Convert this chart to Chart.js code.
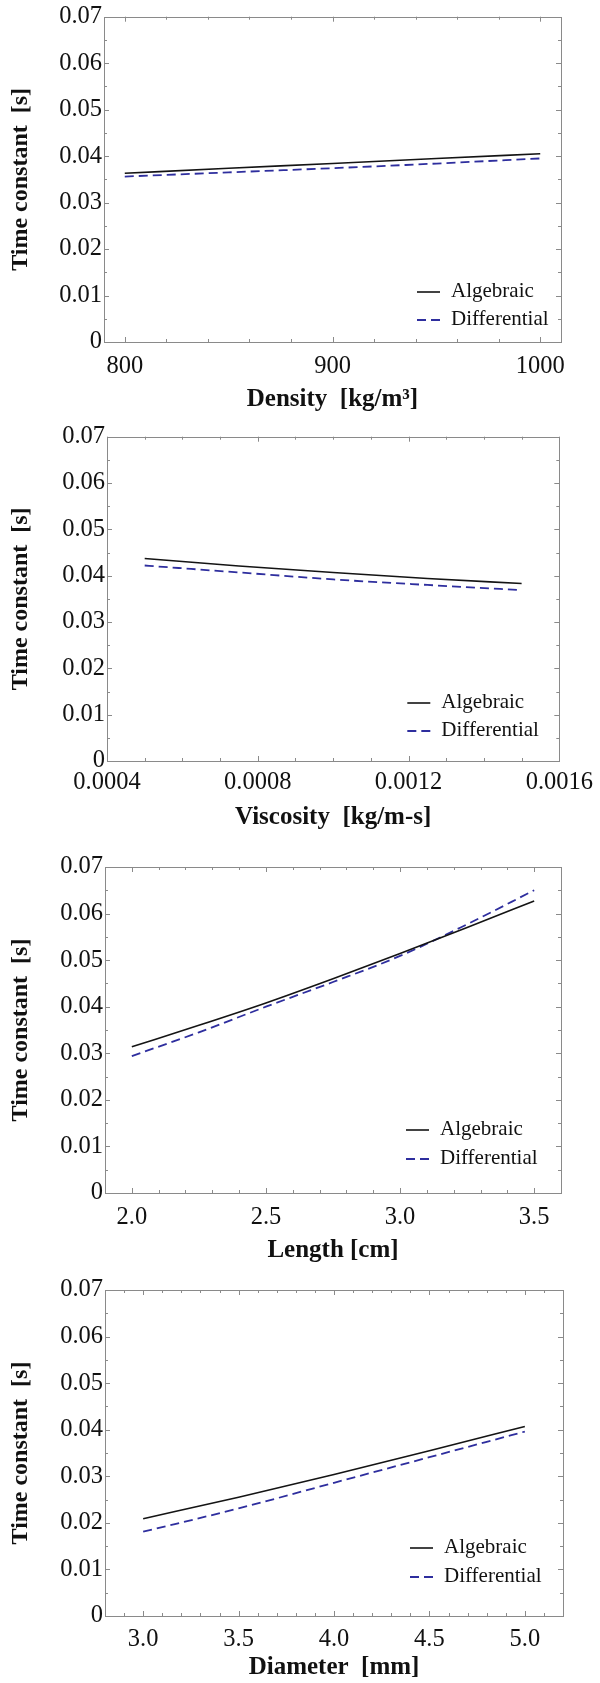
<!DOCTYPE html>
<html lang="en">
<head>
<meta charset="UTF-8">
<title>Time constant</title>
<script src="https://cdn.jsdelivr.net/npm/chart.js"></script>
<style>
  body { margin: 0; background: #fff; }
  canvas { position: absolute; left: 0; }
</style>
</head>
<body>
<canvas id="chart1" width="600" height="420" style="top:0px"></canvas>
<canvas id="chart2" width="600" height="420" style="top:420px"></canvas>
<canvas id="chart3" width="600" height="430" style="top:840px"></canvas>
<canvas id="chart4" width="600" height="413" style="top:1270px"></canvas>

<script>
// --- dados ---
const seriesLabels = ['Algebraic', 'Differential'];
const yTickValues = [0, 0.01, 0.02, 0.03, 0.04, 0.05, 0.06, 0.07];
const yTickLabels = ['0', '0.01', '0.02', '0.03', '0.04', '0.05', '0.06', '0.07'];

// densidade
const densityX = [800, 850, 900, 950, 1000];
const densityAlg = [0.0363, 0.0374, 0.0384, 0.0395, 0.0405];
const densityDif = [0.0356, 0.0365, 0.0374, 0.0384, 0.0395];
const densityTicks = [800, 900, 1000];
const densityTickLabels = ['800', '900', '1000'];

// viscosidade
const viscX = [0.0005, 0.00075, 0.001, 0.00125, 0.0015];
const viscAlg = [0.0437, 0.0421, 0.0407, 0.0394, 0.0383];
const viscDif = [0.0422, 0.0407, 0.0392, 0.0380, 0.0369];
const viscTicks = [0.0004, 0.0008, 0.0012, 0.0016];
const viscTickLabels = ['0.0004', '0.0008', '0.0012', '0.0016'];

// comprimento
const lengthX = [2.0, 2.25, 2.5, 2.75, 3.0, 3.25, 3.5];
const lengthAlg = [0.0314, 0.0360, 0.0408, 0.0460, 0.0514, 0.0570, 0.0627];
const lengthDif = [0.0294, 0.0345, 0.0400, 0.0453, 0.0509, 0.0577, 0.0650];
const lengthTicks = [2.0, 2.5, 3.0, 3.5];
const lengthTickLabels = ['2.0', '2.5', '3.0', '3.5'];

// diametro
const diamX = [3.0, 3.5, 4.0, 4.5, 5.0];
const diamAlg = [0.0209, 0.0255, 0.0304, 0.0355, 0.0407];
const diamDif = [0.0181, 0.0231, 0.0286, 0.0341, 0.0396];
const diamTicks = [3.0, 3.5, 4.0, 4.5, 5.0];
const diamTickLabels = ['3.0', '3.5', '4.0', '4.5', '5.0'];

const FONT = "'Liberation Serif', 'Times New Roman', serif";
const frameColor = '#8a8a8a';

// caixa fechada com ticks para dentro (estilo Mathematica)
const boxTicks = {
    id: 'boxTicks',
    afterDraw(chart, args, opts) {
        const { ctx, chartArea: a, scales: { x, y } } = chart;
        ctx.save();
        ctx.strokeStyle = frameColor;
        ctx.lineWidth = 1;
        ctx.strokeRect(Math.round(a.left) + 0.5, Math.round(a.top) + 0.5,
            Math.round(a.right - a.left), Math.round(a.bottom - a.top));

        function steps(min, max, step) {
            const out = [];
            const start = Math.ceil(min / step - 1e-9);
            const end = Math.floor(max / step + 1e-9);
            for (let i = start; i <= end; i++) out.push(i * step);
            return out;
        }

        ctx.beginPath();
        steps(x.min, x.max, opts.xMinor).forEach(v => {
            const isMajor = x.ticks.some(t => Math.abs(t.value - v) < opts.xMinor / 10);
            const len = isMajor ? 5 : 3;
            const px = Math.round(x.getPixelForValue(v)) + 0.5;
            ctx.moveTo(px, a.bottom); ctx.lineTo(px, a.bottom - len);
            ctx.moveTo(px, a.top); ctx.lineTo(px, a.top + len);
        });
        steps(y.min, y.max, opts.yMinor).forEach(v => {
            const isMajor = y.ticks.some(t => Math.abs(t.value - v) < opts.yMinor / 10);
            const len = isMajor ? 5 : 3;
            const py = Math.round(y.getPixelForValue(v)) + 0.5;
            ctx.moveTo(a.left, py); ctx.lineTo(a.left + len, py);
            ctx.moveTo(a.right, py); ctx.lineTo(a.right - len, py);
        });
        ctx.stroke();
        ctx.restore();
    }
};

// legenda desenhada dentro da area do grafico
const innerLegend = {
    id: 'innerLegend',
    afterDraw(chart, args, opts) {
        const { ctx, chartArea: a } = chart;
        ctx.save();
        ctx.font = '21px ' + FONT;
        ctx.textBaseline = 'middle';
        ctx.fillStyle = '#111';
        chart.data.datasets.forEach((ds, i) => {
            const tx = a.right + opts.x;
            const ty = a.bottom + opts.y[i];
            ctx.strokeStyle = ds.borderColor;
            ctx.lineWidth = ds.borderWidth;
            ctx.setLineDash(ds.borderDash || []);
            ctx.beginPath();
            ctx.moveTo(tx - 34, ty + 1);
            ctx.lineTo(tx - 11, ty + 1);
            ctx.stroke();
            ctx.setLineDash([]);
            ctx.fillText(ds.label, tx, ty);
        });
        ctx.restore();
    }
};

function pontos(xs, ys) {
    return xs.map((v, i) => ({ x: v, y: ys[i] }));
}

function criarGrafico(id, xs, alg, dif, xTicks, xTickLabels, xTitle, lay) {
    const dados = {
        datasets: [{
            label: seriesLabels[0],
            data: pontos(xs, alg),
            borderColor: '#141414',
            borderWidth: 1.6,
            pointRadius: 0,
            cubicInterpolationMode: 'monotone'
        }, {
            label: seriesLabels[1],
            data: pontos(xs, dif),
            borderColor: '#2e2e9e',
            borderWidth: 1.8,
            borderDash: [9, 5],
            pointRadius: 0,
            cubicInterpolationMode: 'monotone'
        }]
    };

    const config = {
        type: 'line',
        data: dados,
        plugins: [boxTicks, innerLegend],
        options: {
            responsive: false,
            animation: false,
            layout: { padding: { top: lay.padTop, right: 600 - lay.right, left: 0, bottom: 0 } },
            plugins: {
                legend: { display: false },
                tooltip: { enabled: false },
                boxTicks: { xMinor: lay.xMinor, yMinor: 0.005 },
                innerLegend: { x: lay.legX, y: lay.legY }
            },
            scales: {
                x: {
                    type: 'linear',
                    min: lay.xMin,
                    max: lay.xMax,
                    grid: { display: false, drawTicks: false },
                    border: { display: false },
                    afterBuildTicks: s => { s.ticks = xTicks.map(v => ({ value: v })); },
                    afterFit: s => { s.height = lay.axisH; },
                    ticks: {
                        autoSkip: false,
                        maxRotation: 0,
                        padding: lay.tickPad,
                        color: '#111',
                        font: { family: FONT, size: 24.5 },
                        callback: (v, i) => xTickLabels[i]
                    },
                    title: {
                        display: true,
                        text: xTitle,
                        color: '#111',
                        padding: { top: 0, bottom: lay.titlePad },
                        font: { family: FONT, size: 25, weight: 'bold' }
                    }
                },
                y: {
                    min: 0,
                    max: 0.07,
                    grid: { display: false, drawTicks: false },
                    border: { display: false },
                    afterBuildTicks: s => { s.ticks = yTickValues.map(v => ({ value: v })); },
                    afterFit: s => { s.width = lay.left; },
                    ticks: {
                        padding: 2,
                        color: '#111',
                        font: { family: FONT, size: 24.5 },
                        callback: (v, i) => yTickLabels[i]
                    },
                    title: {
                        display: true,
                        text: 'Time constant  [s]',
                        color: '#111',
                        padding: { top: 6, bottom: 0 },
                        font: { family: FONT, size: 24, weight: 'bold' }
                    }
                }
            }
        }
    };

    return new Chart(document.getElementById(id), config);
}

criarGrafico('chart1', densityX, densityAlg, densityDif, densityTicks, densityTickLabels, 'Density  [kg/m³]',
    { padTop: 16, left: 104, right: 561, axisH: 78, tickPad: 10, titlePad: 5, xMin: 790, xMax: 1010, xMinor: 20, legX: -110, legY: [-51, -23] });

criarGrafico('chart2', viscX, viscAlg, viscDif, viscTicks, viscTickLabels, 'Viscosity  [kg/m-s]',
    { padTop: 15, left: 107, right: 564, axisH: 79, tickPad: 7, titlePad: 7, xMin: 0.0004, xMax: 0.0016, xMinor: 0.0001, legX: -118, legY: [-59, -31] });

criarGrafico('chart3', lengthX, lengthAlg, lengthDif, lengthTicks, lengthTickLabels, 'Length [cm]',
    { padTop: 27, left: 105, right: 561, axisH: 77, tickPad: 10, titlePad: 4, xMin: 1.9, xMax: 3.6, xMinor: 0.1, legX: -121, legY: [-64, -35] });

criarGrafico('chart4', diamX, diamAlg, diamDif, diamTicks, diamTickLabels, 'Diameter  [mm]',
    { padTop: 20, left: 105, right: 563, axisH: 67, tickPad: 9, titlePad: 0, xMin: 2.8, xMax: 5.2, xMinor: 0.1, legX: -119, legY: [-69, -40] });
</script>
</body>
</html>
